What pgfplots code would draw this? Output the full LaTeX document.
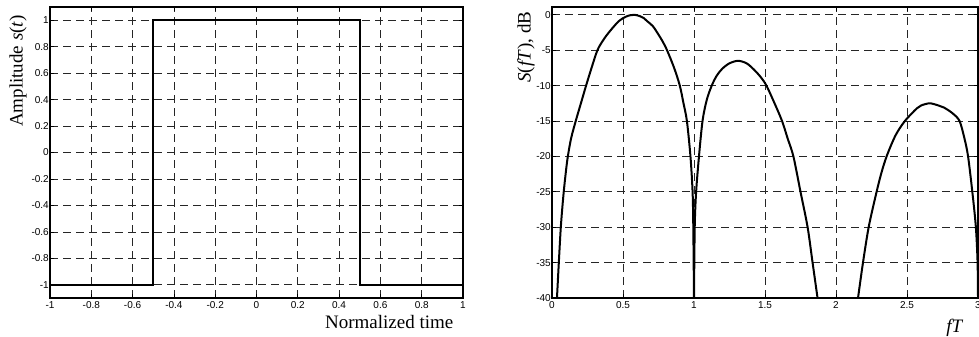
\documentclass[border=0pt]{standalone}
\usepackage{pgfplots}
\pgfplotsset{compat=1.18}
\usepackage{fontspec}
\setmainfont{Liberation Serif}
\newfontfamily\arial{Liberation Sans}
\begin{document}
\begin{tikzpicture}
\pgfplotsset{
  every axis/.append style={
    scale only axis,
    axis line style={line width=1.1pt},
    grid=major,
    major grid style={dash pattern=on 8pt off 5pt, black!85, line width=0.7pt},
    tick style={black, line width=0.7pt},
    major tick length=4pt,
    tick align=inside,
    ticklabel style={font=\arial\fontsize{10}{11}\selectfont},
    yticklabel style={inner xsep=1pt},
    /pgf/number format/assume math mode=true,
    label style={font=\fontsize{19}{22}\selectfont},
  }
}
\begin{axis}[at={(50pt,39pt)}, anchor=south west, width=413pt, height=291pt,
  xmin=-1, xmax=1, ymin=-1.1, ymax=1.1,
  xtick={-1,-0.8,-0.6,-0.4,-0.2,0,0.2,0.4,0.6,0.8,1},
  ytick={-1,-0.8,-0.6,-0.4,-0.2,0,0.2,0.4,0.6,0.8,1},
  xlabel={Normalized time},
  xlabel style={at={(axis description cs:0.985,-0.1065)}, anchor=base east},
  ylabel={Amplitude \textit{s}(\textit{t})},
  ylabel style={at={(axis description cs:-0.0775,0.78)}, anchor=center},
]
\addplot[black, line width=1.9pt] coordinates {(-1,-1) (-0.5,-1) (-0.5,1) (0.5,1) (0.5,-1) (1,-1)};
\end{axis}
\begin{axis}[at={(552pt,39pt)}, anchor=south west, width=426pt, height=291pt,
  xmin=0, xmax=3, ymin=-40, ymax=1.1,
  xtick={0,0.5,1,1.5,2,2.5,3},
  ytick={-40,-35,-30,-25,-20,-15,-10,-5,0},
  xlabel={\textit{fT}},
  xlabel style={at={(axis description cs:0.974,-0.117)}, anchor=base east},
  ylabel={\textit{S}(\textit{fT}), dB},
  ylabel style={at={(axis description cs:-0.061,0.862)}, anchor=center},
]
\addplot[black, line width=2pt, smooth, tension=0.5] coordinates {
 (0.035,-40) (0.048,-35) (0.062,-30) (0.078,-26) (0.093,-23) (0.11,-20.2) (0.135,-17.4) (0.17,-14.8)
 (0.205,-12.4) (0.24,-10) (0.28,-7.4) (0.32,-5) (0.36,-3.6) (0.40,-2.5) (0.47,-0.9) (0.52,-0.27)
 (0.55,-0.07) (0.58,0) (0.62,-0.2) (0.645,-0.45) (0.67,-0.9) (0.71,-1.6) (0.75,-2.8) (0.78,-3.8)
 (0.81,-5) (0.86,-7.5) (0.90,-10) (0.925,-12.4) (0.95,-15) (0.975,-20) (0.99,-25) (0.995,-30) (1.0,-40)};
\addplot[black, line width=2pt, smooth, tension=0.5] coordinates {
 (1.0,-40) (1.005,-30) (1.015,-25) (1.035,-20) (1.06,-15) (1.09,-12) (1.125,-10) (1.16,-8.6)
 (1.2,-7.6) (1.25,-6.85) (1.31,-6.5) (1.37,-6.85) (1.42,-7.7) (1.47,-8.8) (1.51,-10) (1.565,-12.4)
 (1.62,-15) (1.66,-17.5) (1.70,-20) (1.75,-25) (1.80,-30) (1.835,-35) (1.87,-40)};
\addplot[black, line width=2pt, smooth, tension=0.5] coordinates {
 (2.155,-40) (2.19,-35) (2.23,-30) (2.28,-25.5) (2.32,-22.3) (2.36,-19.8) (2.42,-17) (2.485,-15)
 (2.57,-13.2) (2.60,-12.8) (2.66,-12.5) (2.72,-12.8) (2.76,-13.1) (2.82,-13.9) (2.87,-15)
 (2.905,-17.5) (2.93,-20) (2.96,-25) (2.985,-30) (2.997,-35) (3.0,-40)};
\end{axis}
\pgfresetboundingbox
\useasboundingbox (0pt,0pt) rectangle (979pt,337pt);
\end{tikzpicture}
\end{document}
